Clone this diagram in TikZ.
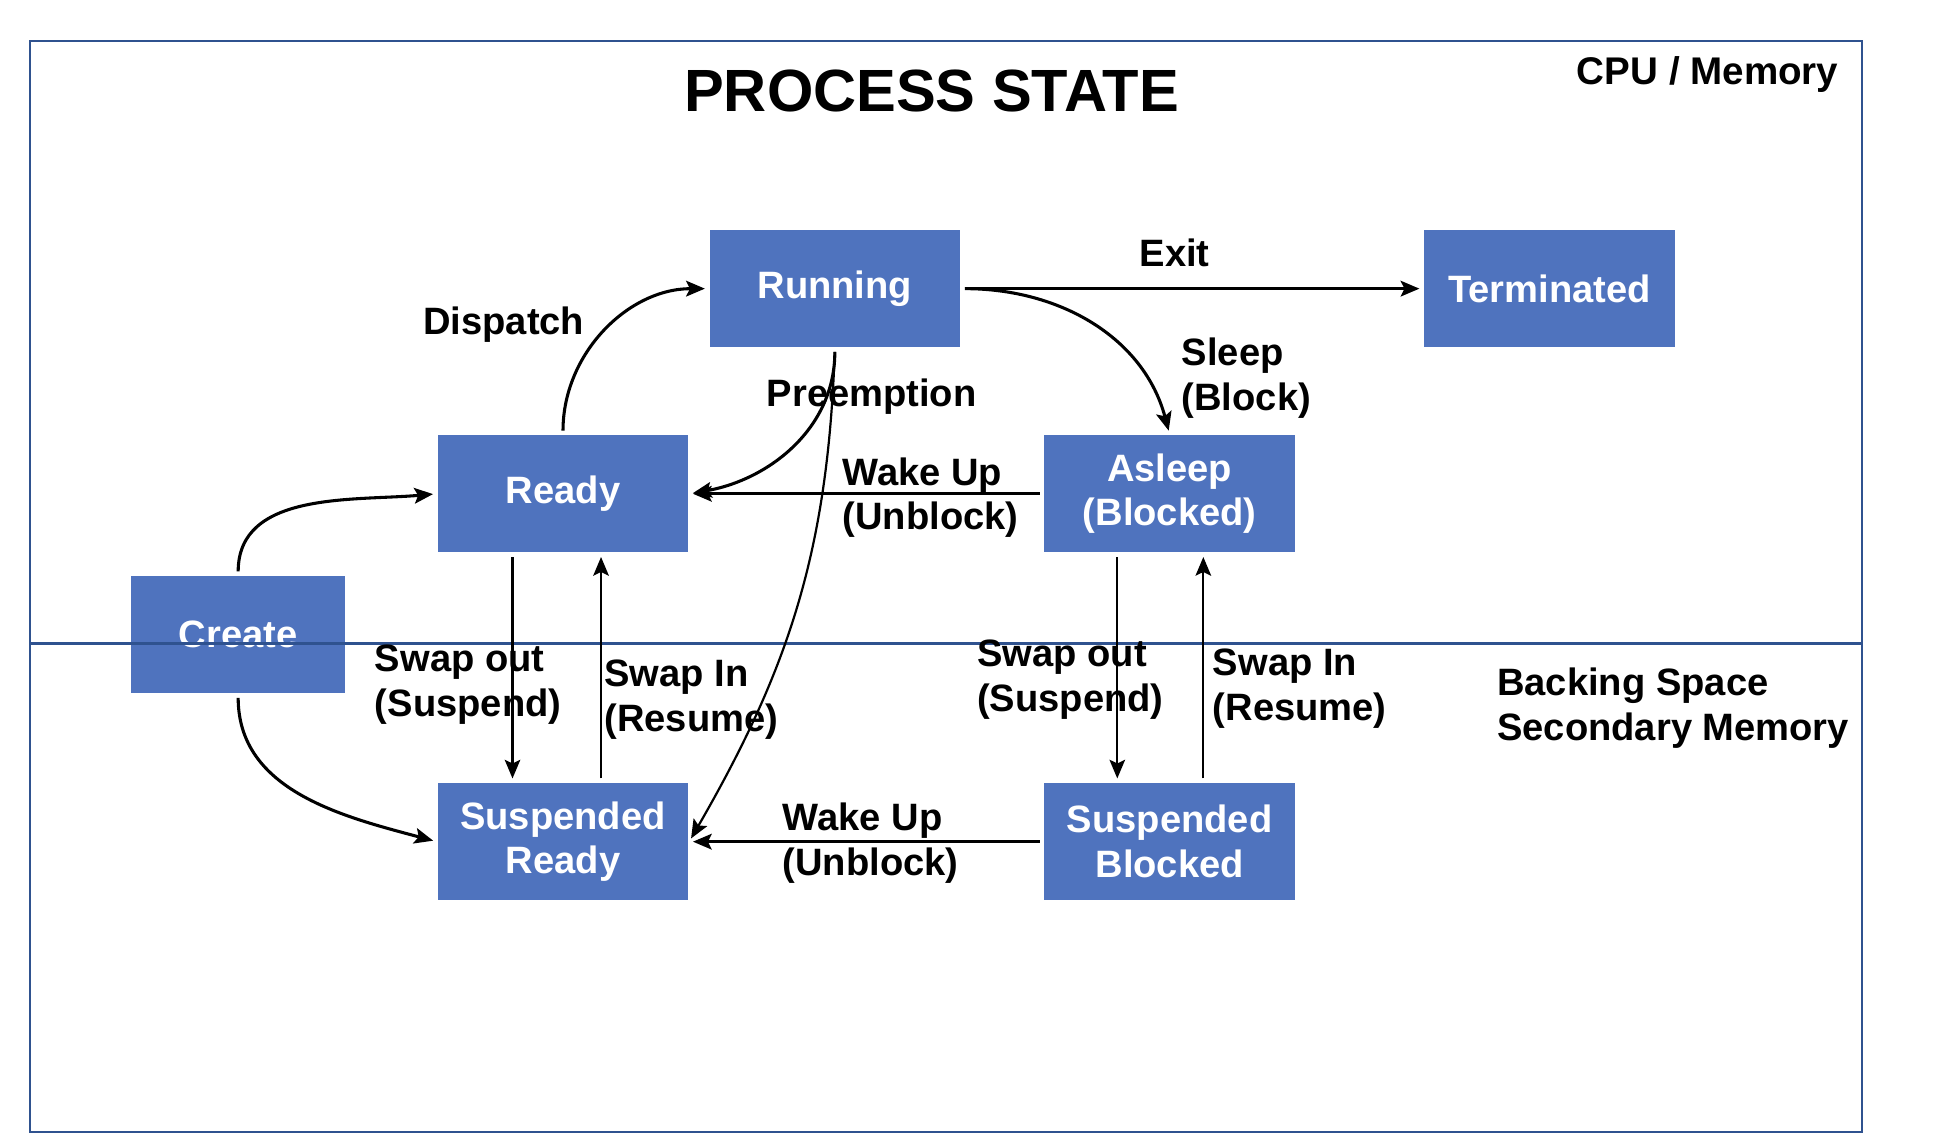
\documentclass[tikz,border=0pt]{standalone}
\usepackage{fontspec}
\setmainfont{Liberation Sans}
\usepackage{tikz}
\usetikzlibrary{arrows.meta}
\definecolor{stateblue}{HTML}{4F73BE}
\definecolor{frameblue}{HTML}{2F528F}

\begin{document}
\begin{tikzpicture}[
    state/.style={fill=stateblue, text=white, minimum width=2.01cm, minimum height=0.94cm,
      inner sep=0pt, align=center, font=\fontsize{8.7}{10.2}\selectfont\bfseries},
    lbl/.style={align=left, inner sep=0pt, font=\fontsize{8.7}{10.2}\selectfont\bfseries},
    tr/.style={-{Stealth[length=1.5mm,width=1.25mm,inset=0.3mm]}, line width=0.7pt,
      shorten <=0.3mm, shorten >=0.3mm},
    thin tr/.style={tr, line width=0.5pt}
  ]
  \useasboundingbox (0,0) rectangle (15.67,9.16);
  % states
  \node[state] (running) at (6.695,6.845) {Running};
  \node[state] (terminated) at (12.425,6.845) {Terminated};
  \node[state] (ready) at (4.515,5.20) {Ready};
  \node[state] (asleep) at (9.38,5.20) {Asleep\\(Blocked)};
  \node[state, minimum width=1.72cm] (create) at (1.91,4.07) {Create};
  \node[state] (susready) at (4.515,2.41) {Suspended\\Ready};
  \node[state] (susblocked) at (9.38,2.41) {Suspended\\Blocked};

  % memory areas
  \draw[frameblue, line width=0.5pt] (0.24,0.08) rectangle (14.93,8.83);
  \draw[frameblue, line width=0.5pt] (0.24,4.00) -- (14.93,4.00);
  \node[font=\fontsize{13.6}{16}\selectfont\bfseries, inner sep=0pt] (title) at (7.47,8.43) {PROCESS STATE};
  \node[lbl, anchor=east, font=\fontsize{8.8}{10.2}\selectfont\bfseries] (cpu) at (14.75,8.56) {CPU / Memory};
  \node[lbl, anchor=west] (backing) at (12.00,3.48) {Backing Space\\Secondary Memory};

  % transitions
  \draw[tr] (running.east) -- (terminated.west);
  \node[lbl] (exit) at (9.42,7.13) {Exit};
  \draw[tr] (running.east) to[out=0,in=105] (asleep.north);
  \node[lbl, anchor=west] (sleep) at (9.47,6.13) {Sleep\\(Block)};
  \draw[tr] (ready.north) to[out=90,in=180] (running.west);
  \node[lbl] (dispatch) at (4.04,6.56) {Dispatch};
  \draw[tr] (running.south) to[out=-90,in=10] (ready.east);
  \node[lbl] (preempt) at (6.99,5.98) {Preemption};
  \draw[thin tr] (running.south) to[out=-92,in=60] (susready.east);
  \draw[tr] (asleep.west) -- (ready.east);
  \node[lbl, anchor=west] (wake1) at (6.75,5.17) {Wake Up\\(Unblock)};
  \draw[tr] (susblocked.west) -- (susready.east);
  \node[lbl, anchor=west] (wake2) at (6.27,2.40) {Wake Up\\(Unblock)};
  \draw[tr] (create.north) to[out=90,in=185] (ready.west);
  \draw[tr] (create.south) to[out=-90,in=165] (susready.west);

  % swapping
  \draw[thin tr] ([xshift=-0.405cm]ready.south) -- ([xshift=-0.405cm]susready.north);
  \node[lbl, anchor=west] (swapout1) at (3.00,3.67) {Swap out\\(Suspend)};
  \draw[thin tr] ([xshift=0.305cm]susready.north) -- ([xshift=0.305cm]ready.south);
  \node[lbl, anchor=west] (swapin1) at (4.84,3.55) {Swap In\\(Resume)};
  \draw[thin tr] ([xshift=-0.42cm]asleep.south) -- ([xshift=-0.42cm]susblocked.north);
  \node[lbl, anchor=west] (swapout2) at (7.83,3.71) {Swap out\\(Suspend)};
  \draw[thin tr] ([xshift=0.27cm]susblocked.north) -- ([xshift=0.27cm]asleep.south);
  \node[lbl, anchor=west] (swapin2) at (9.72,3.64) {Swap In\\(Resume)};
\end{tikzpicture}
\end{document}
